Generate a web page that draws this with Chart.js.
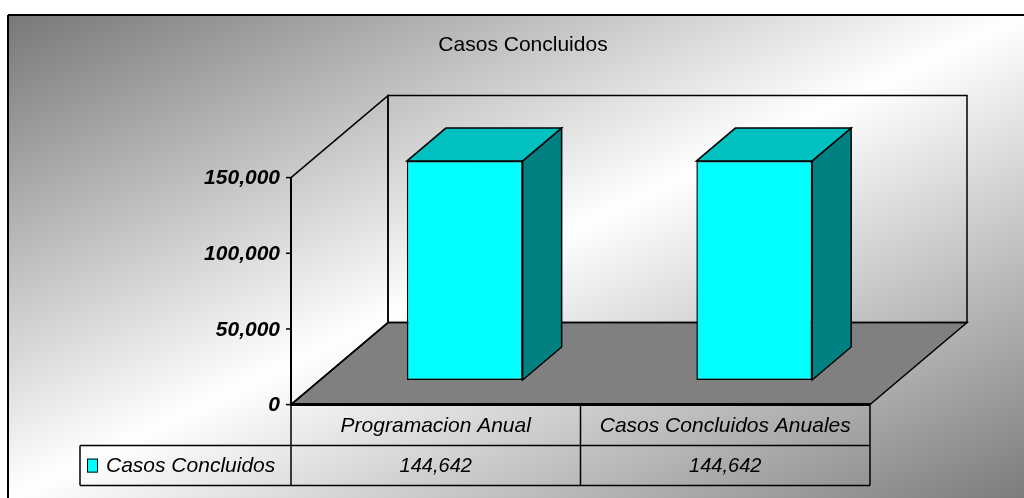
<!DOCTYPE html>
<html>
<head>
<meta charset="utf-8">
<title>Casos Concluidos</title>
<script src="https://cdn.jsdelivr.net/npm/chart.js@4.4.0/dist/chart.umd.min.js"></script>
<style>
  html, body { margin: 0; padding: 0; background: #fff; }
  canvas { display: block; }
</style>
</head>
<body>
<canvas id="chart" width="1024" height="498"></canvas>
<script>
// chart data
const chartTitle = 'Casos Concluidos';
const seriesName = 'Casos Concluidos';
const categories = ['Programacion Anual', 'Casos Concluidos Anuales'];
const casosConcluidos = [144642, 144642];
const yTicks = [0, 50000, 100000, 150000];

const FONT = '"Liberation Sans", Arial, sans-serif';
// depth offsets relative to the bar front plane (= chart area)
const frontOff = { x: -29, y: 24.6 };
const backOff = { x: 68, y: -57.4 };
const barDepth = { x: 39, y: -33 };

const fmt = v => v.toLocaleString('en-US');

function poly(ctx, pts, fill, stroke, lw) {
  ctx.beginPath();
  ctx.moveTo(pts[0][0], pts[0][1]);
  for (let i = 1; i < pts.length; i++) ctx.lineTo(pts[i][0], pts[i][1]);
  ctx.closePath();
  if (fill) { ctx.fillStyle = fill; ctx.fill(); }
  if (stroke) { ctx.strokeStyle = stroke; ctx.lineWidth = lw || 1.5; ctx.stroke(); }
}

function line(ctx, x0, y0, x1, y1, lw) {
  ctx.beginPath();
  ctx.moveTo(x0, y0);
  ctx.lineTo(x1, y1);
  ctx.strokeStyle = '#000';
  ctx.lineWidth = lw || 1.5;
  ctx.stroke();
}

const excel3d = {
  id: 'excel3d',
  beforeDraw(chart) {
    const ctx = chart.ctx;
    const W = chart.width, H = chart.height;
    const fx = 8, fy = 15, fw = W - fx, fh = H - fy;
    // diagonal gradient in normalized frame space
    ctx.save();
    ctx.fillStyle = '#fff';
    ctx.fillRect(0, 0, W, H);
    ctx.translate(fx, fy);
    ctx.scale(fw, fh);
    const g = ctx.createLinearGradient(0, 0, 1, 1);
    g.addColorStop(0, '#787878');
    g.addColorStop(0.5, '#ffffff');
    g.addColorStop(1, '#7c7c7c');
    ctx.fillStyle = g;
    ctx.fillRect(0, 0, 1, 1);
    ctx.restore();
    // frame border
    line(ctx, fx, fy, W + 2, fy, 2);
    line(ctx, fx, fy, fx, H + 2, 2);

    // title
    ctx.save();
    ctx.fillStyle = '#000';
    ctx.font = '21px ' + FONT;
    ctx.textAlign = 'center';
    ctx.textBaseline = 'middle';
    ctx.fillText(chartTitle, 523, 45);
    ctx.restore();
  },
  beforeDatasetsDraw(chart) {
    const ctx = chart.ctx;
    const a = chart.chartArea;
    const y = chart.scales.y;
    const top = y.getPixelForValue(yTicks[yTicks.length - 1]);
    const bot = y.getPixelForValue(0);
    const L = a.left, R = a.right;
    ctx.save();
    // floor
    poly(ctx, [
      [L + frontOff.x, bot + frontOff.y], [R + frontOff.x, bot + frontOff.y],
      [R + backOff.x, bot + backOff.y], [L + backOff.x, bot + backOff.y]
    ], '#808080', '#000', 1.5);
    // back wall
    poly(ctx, [
      [L + backOff.x, top + backOff.y], [R + backOff.x, top + backOff.y],
      [R + backOff.x, bot + backOff.y], [L + backOff.x, bot + backOff.y]
    ], null, '#000', 1.5);
    // side wall
    poly(ctx, [
      [L + frontOff.x, top + frontOff.y], [L + backOff.x, top + backOff.y],
      [L + backOff.x, bot + backOff.y], [L + frontOff.x, bot + frontOff.y]
    ], null, '#000', 1.5);
    // value axis
    const ax = L + frontOff.x;
    line(ctx, ax, top + frontOff.y, ax, bot + frontOff.y, 2);
    ctx.fillStyle = '#000';
    ctx.font = 'italic bold 21px ' + FONT;
    ctx.textAlign = 'right';
    ctx.textBaseline = 'middle';
    yTicks.forEach(v => {
      const py = y.getPixelForValue(v) + frontOff.y;
      line(ctx, ax - 5, py, ax, py, 1.5);
      ctx.fillText(fmt(v), ax - 11, py + 1);
    });
    ctx.restore();
  },
  afterDatasetsDraw(chart) {
    const ctx = chart.ctx;
    const a = chart.chartArea;
    const x = chart.scales.x;
    const y = chart.scales.y;
    const bot = y.getPixelForValue(0);
    ctx.save();
    // bar top and side faces
    chart.getDatasetMeta(0).data.forEach(bar => {
      const p = bar.getProps(['x', 'y', 'base', 'width'], true);
      const x0 = p.x - p.width / 2, x1 = p.x + p.width / 2;
      const dx = barDepth.x, dy = barDepth.y;
      poly(ctx, [[x0, p.y], [x1, p.y], [x1 + dx, p.y + dy], [x0 + dx, p.y + dy]], '#00c0c0', '#000', 1.5);
      poly(ctx, [[x1, p.y], [x1 + dx, p.y + dy], [x1 + dx, p.base + dy], [x1, p.base]], '#008080', '#000', 1.5);
    });

    // data table
    const slot = (a.right - a.left) / categories.length;
    const tTop = bot + frontOff.y;
    const tMid = tTop + 41;
    const tBot = tMid + 40;
    const legL = 80;
    const colX = i => x.getPixelForValue(i) - slot / 2 + frontOff.x;
    const tR = colX(categories.length);
    line(ctx, colX(0), tTop, tR, tTop, 3);
    line(ctx, legL, tMid, tR, tMid, 1.5);
    line(ctx, legL, tBot, tR, tBot, 1.5);
    line(ctx, legL, tMid, legL, tBot, 1.5);
    for (let i = 0; i <= categories.length; i++) line(ctx, colX(i), tTop, colX(i), tBot, 1.5);

    ctx.fillStyle = '#000';
    ctx.textAlign = 'center';
    ctx.textBaseline = 'middle';
    categories.forEach((c, i) => {
      const cx = x.getPixelForValue(i) + frontOff.x;
      ctx.font = 'italic 21px ' + FONT;
      ctx.fillText(c, cx, (tTop + tMid) / 2 + 1);
      ctx.font = 'italic 20px ' + FONT;
      ctx.fillText(fmt(casosConcluidos[i]), cx, (tMid + tBot) / 2 + 1);
    });
    // legend key
    const ky = (tMid + tBot) / 2;
    ctx.fillStyle = '#00ffff';
    ctx.fillRect(87, ky - 7, 11, 14);
    ctx.strokeStyle = '#000';
    ctx.lineWidth = 1;
    ctx.strokeRect(87.5, ky - 6.5, 10, 13);
    ctx.fillStyle = '#000';
    ctx.textAlign = 'left';
    ctx.font = 'italic 21px ' + FONT;
    ctx.fillText(seriesName, 106, ky + 1);
    ctx.restore();
  }
};

new Chart(document.getElementById('chart'), {
  type: 'bar',
  data: {
    labels: categories,
    datasets: [{
      label: seriesName,
      data: casosConcluidos,
      backgroundColor: '#00ffff',
      borderColor: '#000',
      borderWidth: 1.5,
      borderSkipped: false,
      barPercentage: 0.4,
      categoryPercentage: 1
    }]
  },
  options: {
    responsive: false,
    animation: false,
    layout: { padding: { left: 320, right: 125, top: 153, bottom: 118 } },
    scales: {
      x: { display: false },
      y: { display: false, min: 0, max: 150000 }
    },
    plugins: {
      legend: { display: false },
      tooltip: { enabled: false }
    }
  },
  plugins: [excel3d]
});
</script>
</body>
</html>
